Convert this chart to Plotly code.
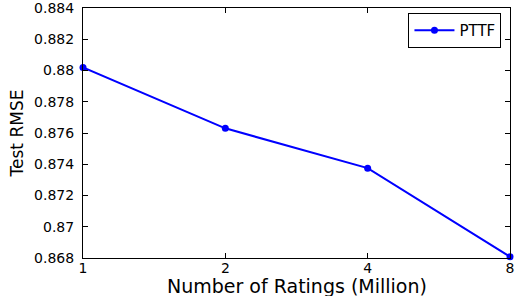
import plotly.graph_objects as go

x_labels = ["1", "2", "4", "8"]
x_pos = [0, 1, 2, 3]
rmse = [0.8802, 0.8763, 0.87375, 0.86808]
y_ticks = [0.868, 0.87, 0.872, 0.874, 0.876, 0.878, 0.88, 0.882, 0.884]
y_tick_text = ["0.868", "0.87", "0.872", "0.874", "0.876", "0.878", "0.88", "0.882", "0.884"]
x_title = "Number of Ratings (Million)"
y_title = "Test RMSE"

fig = go.Figure()
fig.add_trace(go.Scatter(
    x=x_pos, y=rmse, mode="lines+markers", name="PTTF",
    line=dict(color="#0000ff", width=2),
    marker=dict(color="#0000ff", size=7),
    cliponaxis=False,
))

font = "DejaVu Sans, Liberation Sans, Arial, sans-serif"
fig.update_layout(
    width=516, height=296,
    margin=dict(l=83, r=6, t=8, b=38, autoexpand=False),
    paper_bgcolor="white", plot_bgcolor="white",
    font=dict(family=font, size=14, color="black"),
    showlegend=True,
    legend=dict(
        x=0.98, y=0.98, xanchor="right", yanchor="top",
        bordercolor="black", borderwidth=1, bgcolor="white",
        font=dict(size=15), itemwidth=40,
        tracegroupgap=0,
    ),
    xaxis=dict(
        range=[0, 3], tickmode="array", tickvals=x_pos, ticktext=x_labels,
        ticks="inside", ticklen=5, tickcolor="black", mirror="ticks",
        showline=True, linecolor="black", linewidth=1, showgrid=False, zeroline=False,
        tickfont=dict(size=14), ticklabeloverflow="allow", automargin=False,
        ticklabelstandoff=-3,
    ),
    yaxis=dict(
        range=[0.868, 0.884], tickmode="array", tickvals=y_ticks, ticktext=y_tick_text,
        ticks="inside", ticklen=5, tickcolor="black", mirror="ticks",
        showline=True, linecolor="black", linewidth=1, showgrid=False, zeroline=False,
        title=dict(text=y_title, font=dict(size=17), standoff=6),
        tickfont=dict(size=14), ticklabeloverflow="allow", automargin=False,
        ticklabelstandoff=5,
    ),
)
fig.add_annotation(
    text=x_title, xref="paper", yref="paper", x=0.5, y=0,
    xanchor="center", yanchor="top", yshift=-15, showarrow=False,
    font=dict(size=19, family=font, color="black"),
)
fig.write_html(
    "out.html",
    config={"displayModeBar": False},
    post_script="document.body.style.margin='0';document.body.style.padding='0';",
)
